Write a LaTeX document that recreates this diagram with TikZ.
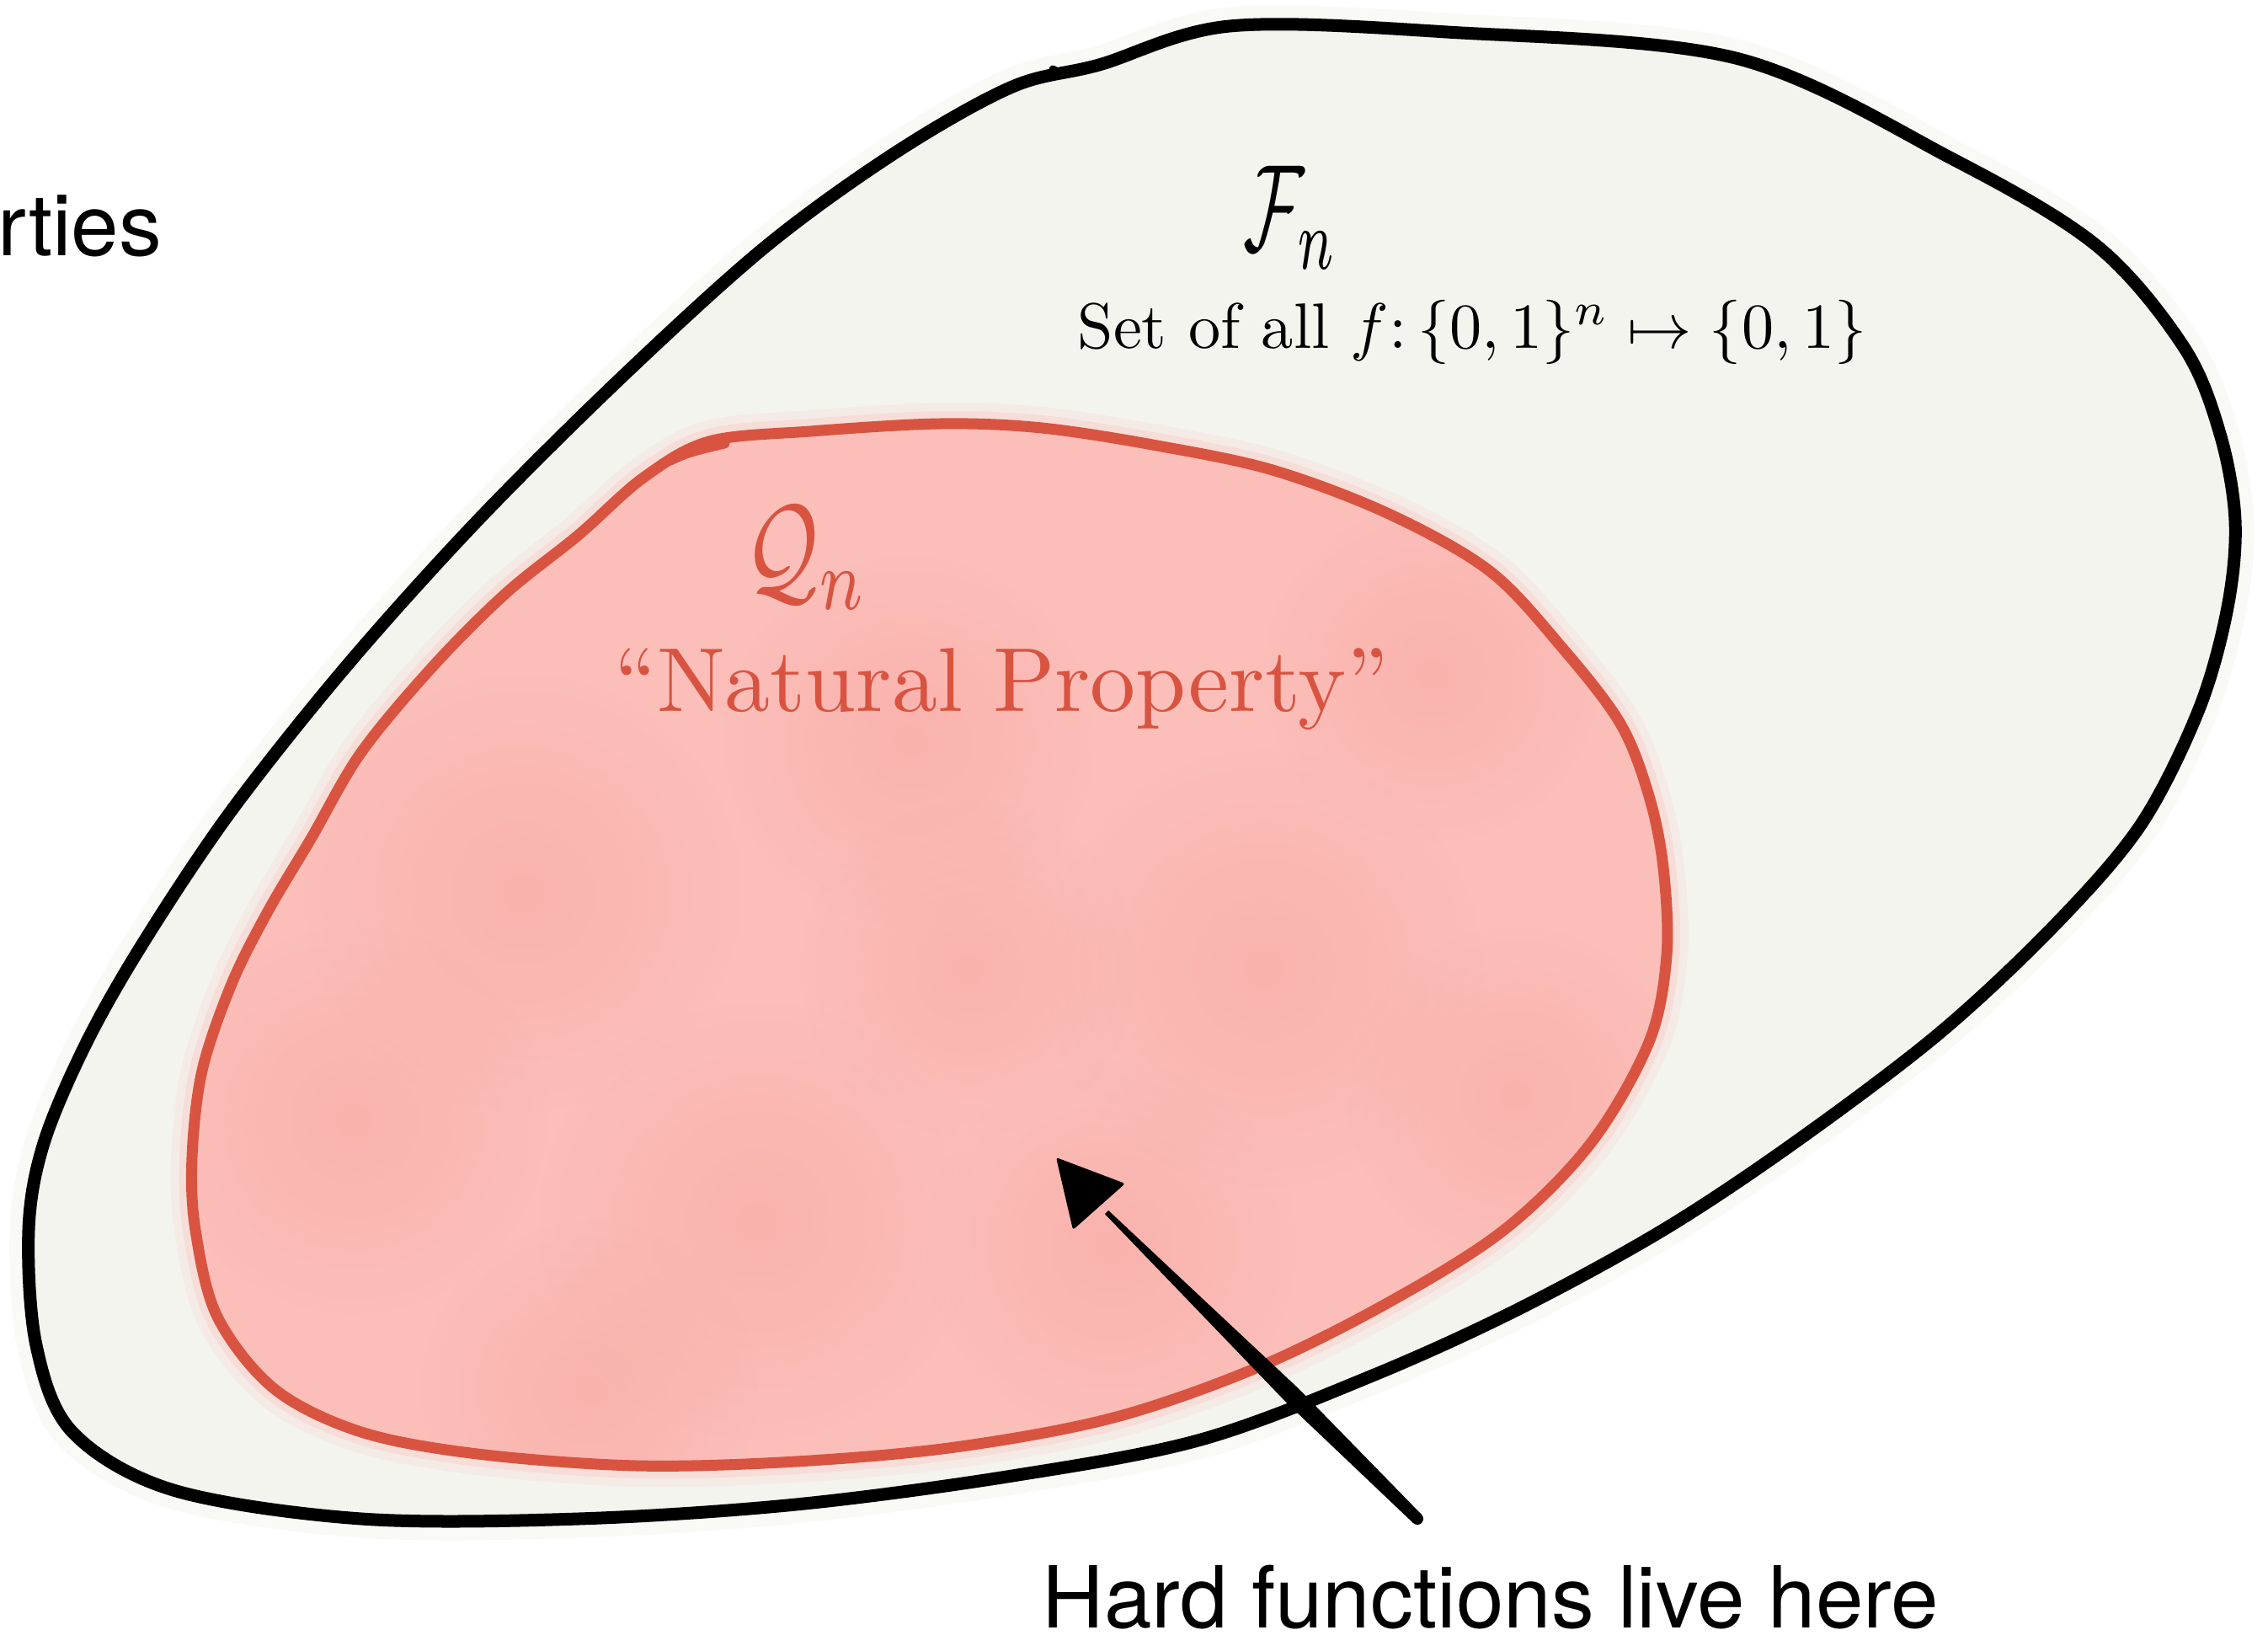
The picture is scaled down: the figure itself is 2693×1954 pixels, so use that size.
\documentclass[tikz,border=0pt]{standalone}
\usepackage{fontspec}
\usepackage{graphicx}
\setsansfont{TeX Gyre Heros}
\usetikzlibrary{fadings}
\definecolor{paper}{RGB}{244,244,239}
\definecolor{pinkfill}{RGB}{252,190,185}
\definecolor{pinkdark}{RGB}{248,166,160}
\definecolor{redline}{RGB}{216,84,65}
\tikzfading[name=blobfade, inner color=transparent!0, outer color=transparent!100]
\begin{document}
\begin{tikzpicture}[x=0.01cm,y=-0.01cm,
  outerline/.style={draw=black,line width=0.15cm,line join=round,line cap=round},
  innerline/.style={draw=redline,line width=0.13cm,line join=round,line cap=round},
  printlabel/.style={font=\sffamily\fontsize{28.9pt}{34pt}\selectfont,inner sep=0pt,text=black},
  handlabel/.style={inner sep=0pt},
  blob/.style={fill=pinkdark,path fading=blobfade,opacity=0.5}]
\useasboundingbox (0,0) rectangle (2693,1954);
\fill[white] (0,0) rectangle (2693,1954);

% outer set F_n
\def\outerpath{plot[smooth cycle,tension=0.55] coordinates {(1305,77) (1460,31) (1718,38) (2061,69) (2319,189) (2490,292) (2593,412) (2636,515) (2654,618) (2645,721) (2611,842) (2542,979) (2439,1099) (2301,1228) (2130,1357) (1975,1460) (1803,1554) (1632,1632) (1426,1709) (1202,1752) (945,1786) (687,1803) (429,1803) (206,1769) (86,1700) (43,1597) (34,1460) (52,1357) (103,1237) (172,1116) (275,962) (412,790) (567,618) (739,447) (910,292) (1065,180) (1202,103)}}
\draw[paper,line width=0.45cm,opacity=0.5] \outerpath;
\fill[paper] \outerpath;

% inner set Q_n
\def\innerpath{plot[smooth cycle,tension=0.55] coordinates {(842,524) (962,512) (1116,503) (1237,508) (1374,529) (1511,558) (1649,610) (1769,678) (1855,769) (1924,859) (1958,945) (1975,1030) (1979,1134) (1958,1237) (1889,1357) (1786,1460) (1649,1546) (1494,1623) (1322,1683) (1134,1718) (945,1735) (756,1740) (567,1726) (429,1700) (326,1649) (258,1563) (232,1460) (228,1374) (240,1271) (275,1168) (318,1082) (369,996) (429,893) (515,790) (601,704) (687,635) (764,567)}}
\draw[pinkfill,line width=0.50cm,opacity=0.15] \innerpath;
\draw[pinkfill,line width=0.30cm,opacity=0.3] \innerpath;
\fill[pinkfill] \innerpath;
\begin{scope}
\clip \innerpath;
\fill[blob] (620,1060) circle (260);
\fill[blob] (1080,880) circle (220);
\fill[blob] (1500,1150) circle (260);
\fill[blob] (900,1450) circle (260);
\fill[blob] (420,1330) circle (230);
\fill[blob] (1320,1480) circle (220);
\fill[blob] (1700,800) circle (200);
\fill[blob] (700,1650) circle (200);
\fill[blob] (1800,1300) circle (200);
\fill[blob] (1150,1150) circle (200);
\end{scope}
\draw[innerline] \innerpath;
\draw[innerline] (796,546) .. controls (815,536) and (835,532) .. (860,526);

\draw[outerline] \outerpath;
\draw[outerline,line width=0.09cm] (1250,82) .. controls (1262,90) and (1280,88) .. (1305,77);

% labels
\node[handlabel] (Fn) at (1533,258) {\resizebox*{1.12cm}{1.22cm}{$\mathcal{F}_n$}};
\node[handlabel] (Fset) at (1748,394) {\resizebox{9.36cm}{!}{Set of all $f\colon\{0,1\}^n\mapsto\{0,1\}$}};
\node[handlabel,text=redline] (Qn) at (958,662) {\resizebox*{1.46cm}{1.22cm}{$\mathcal{Q}_n$}};
\node[handlabel,text=redline] (Qprop) at (1189,818) {\resizebox{9.19cm}{!}{``Natural Property''}};

\node[printlabel,anchor=base east] (props) at (193,303) {rties};
\node[printlabel,anchor=base west] (hard) at (1237,1932) {Hard functions live here};

% arrow
\coordinate (tip) at (1254,1374);
\coordinate (tail) at (1683,1803);
\fill[black,rounded corners=0.03cm] (tip) -- (1336,1405) -- (1274,1460) -- cycle;
\fill[black] (1316.1,1436.9) -- (1542.7,1649.2) -- (1688,1798) -- (1678,1808) -- (1527.3,1664.8) -- (1311.9,1441.1) -- cycle;
\fill[black] (tail) circle (7);
\end{tikzpicture}
\end{document}
